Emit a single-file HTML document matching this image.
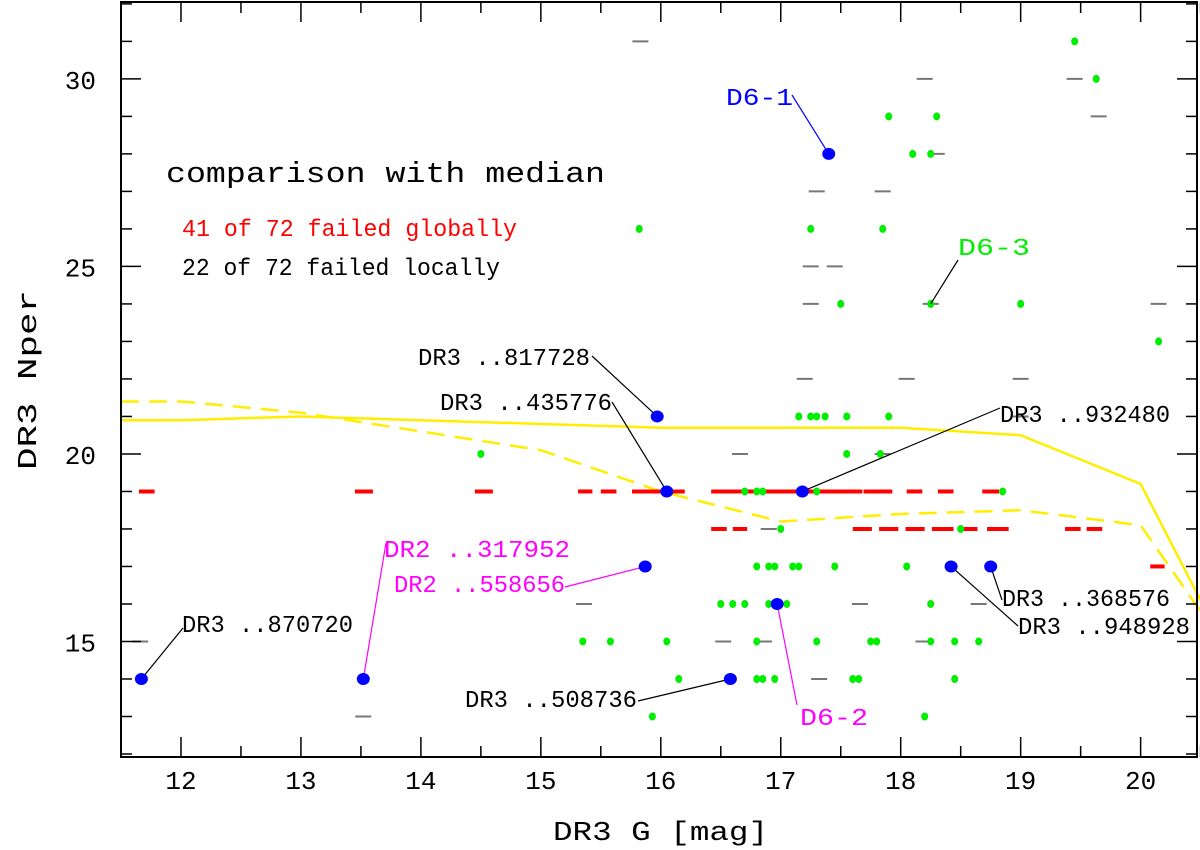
<!DOCTYPE html>
<html><head><meta charset="utf-8"><style>
html,body{margin:0;padding:0;background:#fff;width:1200px;height:850px;overflow:hidden}
svg text{font-family:"Liberation Mono",monospace}
</style></head><body>
<svg id="chart" width="1200" height="850" viewBox="0 0 1200 850" xmlns="http://www.w3.org/2000/svg"></svg>
<script>
const greenG=[19.45,19.63,17.9,18.3,18.1,18.25,15.82,17.25,17.85,17.5,18.25,19.0,20.15,17.15,17.25,17.3,17.37,17.55,17.9,14.5,17.55,17.83,16.7,16.8,16.85,17.3,18.85,17.0,18.5,16.8,16.9,16.95,17.1,17.15,17.45,18.05,18.4,16.5,16.6,16.7,16.9,17.05,18.25,15.35,15.58,16.05,16.8,17.3,17.75,17.8,18.25,18.45,18.65,16.15,16.8,16.85,16.95,17.6,17.65,18.45,15.93,18.2];
const greenN=[31,30,29,29,28,28,26,26,26,24,24,24,23,21,21,21,21,21,21,20,20,20,19,19,19,19,19,18,18,17,17,17,17,17,17,17,17,16,16,16,16,16,16,15,15,15,15,15,15,15,15,15,15,14,14,14,14,14,14,14,13,13];
const blueG=[11.67,13.52,15.87,15.97,16.05,16.58,16.97,17.18,17.4,18.42,18.75];
const blueN=[14,14,17,21,19,14,16,19,28,17,17];
const grayG=[15.83,18.2,19.45,19.65,17.85,17.3,18.3,17.25,17.45,17.25,18.25,20.15,17.2,18.05,19.0,16.66,16.9,15.36,17.66,18.65,16.52,16.86,18.19,17.32,13.52,11.66,17.85,19.0];
const grayN=[31,30,30,29,27,27,28,25,25,24,24,24,22,22,22,20,18,16,16,16,15,15,15,14,13,15,20,21];
const redStart=[11.65,13.45,14.45,15.31,15.5,15.76,16.42,17.69,18.05,18.31,18.68,16.42,16.6,17.6,17.82,18.04,18.26,18.5,18.72,19.37,19.55,20.08];
const redEnd=[11.78,13.6,14.6,15.43,15.63,16.2,17.68,17.93,18.18,18.44,18.82,16.55,16.72,17.76,17.98,18.2,18.44,18.64,18.9,19.5,19.68,20.2];
const redN=[19,19,19,19,19,19,19,19,19,19,19,18,18,18,18,18,18,18,18,18,18,17];
const solidG=[11.5,12,13,14,15,16,17,18,19,20,20.5];
const solidN=[20.9,20.9,21.0,20.9,20.8,20.7,20.7,20.7,20.5,19.2,16.1];
const dashG=[11.5,12,13,14,15,16,17,18,19,20,20.5];
const dashN=[21.4,21.4,21.1,20.6,20.1,19.0,18.2,18.4,18.5,18.1,15.8];
const xTicks=[12,13,14,15,16,17,18,19,20];
const yTicks=[15,20,25,30];

const L=121,R=1197,T=2,B=757,X0=11.5,X1=20.47,Y0=11.92,Y1=32.05;
const sx=g=>L+(g-X0)/(X1-X0)*(R-L);
const sy=n=>B-(n-Y0)/(Y1-Y0)*(B-T);
const svg=document.getElementById('chart');
const NS='http://www.w3.org/2000/svg';
function mk(tag,attrs,parent){const e=document.createElementNS(NS,tag);for(const k in attrs)e.setAttribute(k,attrs[k]);(parent||svg).appendChild(e);return e;}

let p=mk('polyline',{points:solidG.map((g,i)=>sx(g)+','+sy(solidN[i])).join(' '),fill:'none',stroke:'#ffee00','stroke-width':2.5});


p=mk('polyline',{points:dashG.map((g,i)=>sx(g)+','+sy(dashN[i])).join(' '),fill:'none',stroke:'#ffee00','stroke-width':2.5,'stroke-dasharray':'18,10'});



grayG.forEach((g,i)=>{const e=mk('line',{x1:sx(g)-8,x2:sx(g)+8,y1:sy(grayN[i]),y2:sy(grayN[i]),stroke:'#777','stroke-width':2});

});
redStart.forEach((g,i)=>{const e=mk('line',{x1:sx(g),x2:sx(redEnd[i]),y1:sy(redN[i]),y2:sy(redN[i]),stroke:'#ff0000','stroke-width':4});

});
greenG.forEach((g,i)=>{const e=mk('ellipse',{cx:sx(g),cy:sy(greenN[i]),rx:3.5,ry:4,fill:'#00ee00'});

});

const labels=[
 ['DR3 ..870720',182,632,'#000',0,183,628,171],
 ['DR2 ..317952',384,557,'#ff00ff',1,386,543,186],
 ['DR2 ..558656',394,592,'#ff00ff',2,565,587,171],
 ['DR3 ..817728',418,365,'#000',3,592,356,172],
 ['DR3 ..435776',440,410,'#000',4,612,402,172],
 ['DR3 ..508736',465,707,'#000',5,638,701,172],
 ['D6-2',800,725,'#ff00ff',6,797,705,68],
 ['DR3 ..932480',1000,422,'#000',7,1000,408,170],
 ['D6-1',726,105,'#0000ff',8,792,95,67],
 ['DR3 ..948928',1018,634,'#000',9,1018,626,172],
 ['DR3 ..368576',1002,606,'#000',10,1002,600,168],
 ['D6-3',958,255,'#00ee00',null,958,260,72]
];
labels.forEach(l=>{
 const t=mk('text',{x:l[1],y:l[2],fill:l[3],'font-size':24,textLength:l[7],lengthAdjust:'spacingAndGlyphs'});t.textContent=l[0];
 
 
 let tx,ty;
 if(l[4]!==null){tx=sx(blueG[l[4]]);ty=sy(blueN[l[4]]);}else{tx=sx(18.25);ty=sy(24);}
 const ln=mk('line',{x1:l[5],y1:l[6],x2:tx,y2:ty,stroke:l[3]==='#00ee00'?'#000':l[3],'stroke-width':1.2});
 
 
});
blueG.forEach((g,i)=>{const e=mk('ellipse',{cx:sx(g),cy:sy(blueN[i]),rx:6.5,ry:6,fill:'#0000ff'});

});

let f=mk('rect',{x:L,y:T,width:R-L,height:B-T,fill:'none',stroke:'#000','stroke-width':2});


for(let g=12;g<=20.5;g+=0.5){const maj=Number.isInteger(g),len=maj?20:11,x=sx(g);
 mk('line',{x1:x,x2:x,y1:B,y2:B-len,stroke:'#000','stroke-width':1.5});
 mk('line',{x1:x,x2:x,y1:T,y2:T+len,stroke:'#000','stroke-width':1.5});}
for(let n=12;n<=32;n++){const maj=n%5===0,len=maj?20:11,y=sy(n);
 mk('line',{x1:L,x2:L+len,y1:y,y2:y,stroke:'#000','stroke-width':1.5});
 mk('line',{x1:R,x2:R-len,y1:y,y2:y,stroke:'#000','stroke-width':1.5});}
xTicks.forEach(v=>{const t=mk('text',{x:sx(v),y:789,'text-anchor':'middle','font-size':26,fill:'#000'});t.textContent=v;

});
yTicks.forEach(v=>{const t=mk('text',{x:96,y:sy(v)+10,'text-anchor':'end','font-size':26,fill:'#000'});t.textContent=v;

});
let t=mk('text',{x:553,y:840,'font-size':27,fill:'#000',textLength:215,lengthAdjust:'spacingAndGlyphs'});t.textContent='DR3 G [mag]';


t=mk('text',{x:0,y:0,'font-size':27,fill:'#000',textLength:180,lengthAdjust:'spacingAndGlyphs',transform:'translate(36,470) rotate(-90)'});t.textContent='DR3 Nper';


t=mk('text',{x:166,y:182,'font-size':29,fill:'#000',textLength:439,lengthAdjust:'spacingAndGlyphs'});t.textContent='comparison with median';


t=mk('text',{x:182,y:236,'font-size':24,fill:'#ff0000',textLength:335,lengthAdjust:'spacingAndGlyphs'});t.textContent='41 of 72 failed globally';


t=mk('text',{x:182,y:275,'font-size':24,fill:'#000',textLength:318,lengthAdjust:'spacingAndGlyphs'});t.textContent='22 of 72 failed locally';


</script>
</body></html>
